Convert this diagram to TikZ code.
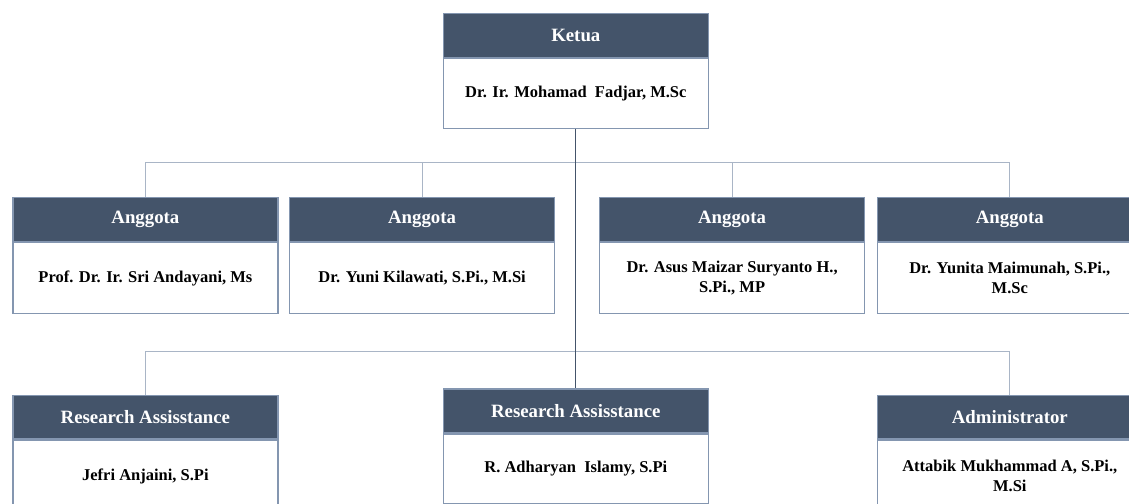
\documentclass[tikz,border=0pt]{standalone}
\usepackage{fontspec}
\setmainfont{Liberation Serif}
\definecolor{hdrblue}{HTML}{44546A}
\definecolor{bordergray}{HTML}{8496B0}
\definecolor{conngray}{HTML}{A9B5C6}
\newcommand{\hdrfont}{\fontsize{18.8}{22}\selectfont\bfseries}
\newcommand{\bodyfont}{\fontsize{16.5}{19.5}\selectfont\bfseries}
\tikzset{
  hdr/.style={draw=bordergray, line width=1.2pt, fill=hdrblue, text=white, font=\hdrfont,
    minimum width=265pt, minimum height=44pt, inner sep=0pt, anchor=north west},
  bdy/.style={draw=bordergray, line width=1.2pt, fill=white, text=black, font=\bodyfont,
    minimum width=265pt, inner sep=0pt, align=center, anchor=north west},
  conn/.style={draw=conngray, line width=0.9pt},
  trunk/.style={draw=hdrblue, line width=1.1pt}
}
\begin{document}
\begin{tikzpicture}[x=1pt,y=-1pt]
\useasboundingbox (0,0) rectangle (1129,503);
\clip (0,0) rectangle (1129,503);
\fill[white] (0,0) rectangle (1129,503);
% top
\node[hdr] (kh) at (442.7,12.7) {Ketua};
\node[bdy, minimum height=70pt] (kb) at (kh.south west) {Dr. Ir. Mohamad\ \ Fadjar, M.Sc};
% row 1
\node[hdr] (a1h) at (12.3,196.7) {Anggota};
\node[bdy, minimum height=71pt] (a1b) at (a1h.south west) {Prof. Dr. Ir. Sri Andayani, Ms};
\node[hdr] (a2h) at (289,196.7) {Anggota};
\node[bdy, minimum height=71pt] (a2b) at (a2h.south west) {Dr. Yuni Kilawati, S.Pi., M.Si};
\node[hdr] (a3h) at (599,196.7) {Anggota};
\node[bdy, minimum height=71pt] (a3b) at (a3h.south west) {Dr. Asus Maizar Suryanto H.,\\S.Pi., MP};
\node[hdr] (a4h) at (876.7,196.7) {Anggota};
\node[bdy, minimum height=71pt] (a4b) at (a4h.south west) {Dr. Yunita Maimunah, S.Pi.,\\M.Sc};
% row 2
\node[hdr, minimum height=43.3pt] (r1h) at (12.3,395) {Research Assisstance};
\node[bdy, minimum height=72pt] (r1b) at (r1h.south west) {Jefri Anjaini, S.Pi};
\node[hdr] (r2h) at (442.7,388.3) {Research Assisstance};
\node[bdy, minimum height=69.4pt] (r2b) at (r2h.south west) {R. Adharyan\ \ Islamy, S.Pi};
\node[hdr, minimum height=43.3pt] (adh) at (876.7,395) {Administrator};
\node[bdy, minimum height=72pt] (adb) at (adh.south west) {Attabik Mukhammad A, S.Pi.,\\M.Si};
% connectors
\coordinate (bus1) at (575.2,162.7);
\coordinate (bus2) at (575.2,351.7);
\draw[conn] (a1h.north) -- (a1h.north |- bus1) -- (a4h.north |- bus1) -- (a4h.north);
\draw[conn] (a2h.north) -- (a2h.north |- bus1);
\draw[conn] (a3h.north) -- (a3h.north |- bus1);
\draw[conn] (r1h.north) -- (r1h.north |- bus2) -- (adh.north |- bus2) -- (adh.north);
\draw[trunk] (kb.south) -- (r2h.north);
\end{tikzpicture}
\end{document}
